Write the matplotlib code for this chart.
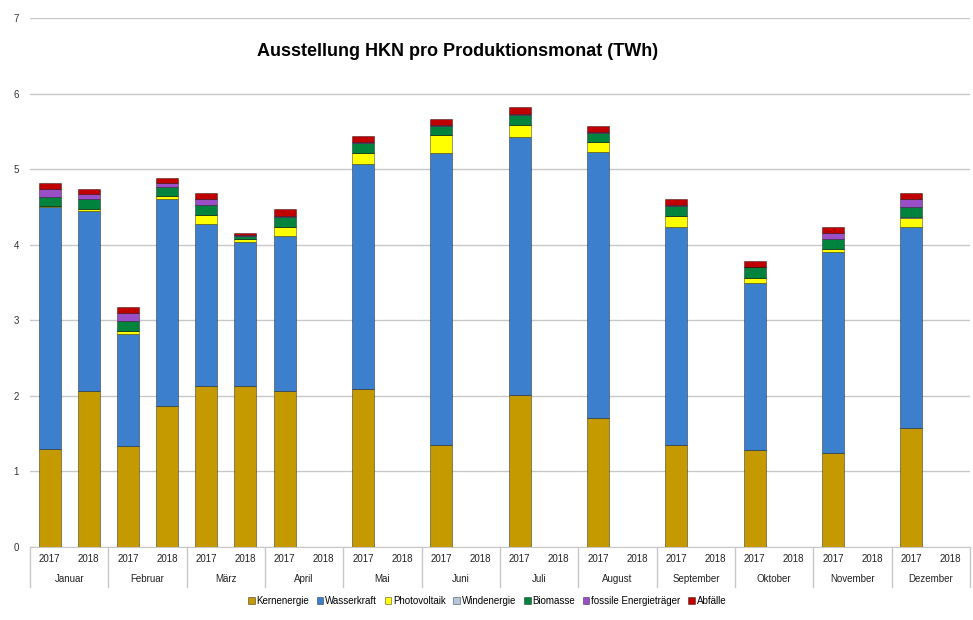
import numpy as np
import matplotlib
matplotlib.use('Agg')
import matplotlib.pyplot as plt
import matplotlib.transforms as mtransforms

plt.rcParams['font.family'] = ['Liberation Sans', 'DejaVu Sans']

months = ['Januar', 'Februar', 'März', 'April', 'Mai', 'Juni', 'Juli',
          'August', 'September', 'Oktober', 'November', 'Dezember']
years = ['2017', '2018']

# values in TWh, one entry per (month, year) pair: Jan 2017, Jan 2018, Feb 2017, ...
nan = np.nan
kernenergie = [1.30, 2.06, 1.33, 1.87, 2.13, 2.13, 2.06, nan, 2.09, nan, 1.35, nan,
               2.01, nan, 1.71, nan, 1.35, nan, 1.29, nan, 1.25, nan, 1.57, nan]
wasserkraft = [3.20, 2.38, 1.49, 2.73, 2.14, 1.90, 2.06, nan, 2.98, nan, 3.87, nan,
               3.42, nan, 3.52, nan, 2.88, nan, 2.20, nan, 2.65, nan, 2.66, nan]
photovoltaik = [0.01, 0.03, 0.04, 0.04, 0.12, 0.04, 0.12, nan, 0.15, nan, 0.23, nan,
                0.15, nan, 0.13, nan, 0.15, nan, 0.07, nan, 0.04, nan, 0.12, nan]
windenergie = [0.00, 0.00, 0.00, 0.00, 0.00, 0.00, 0.00, nan, 0.00, nan, 0.00, nan,
               0.00, nan, 0.00, nan, 0.00, nan, 0.00, nan, 0.00, nan, 0.02, nan]
biomasse = [0.12, 0.13, 0.13, 0.12, 0.14, 0.04, 0.13, nan, 0.13, nan, 0.12, nan,
            0.14, nan, 0.12, nan, 0.13, nan, 0.14, nan, 0.14, nan, 0.13, nan]
fossile = [0.11, 0.07, 0.10, 0.06, 0.07, 0.02, 0.01, nan, 0.01, nan, 0.01, nan,
           0.01, nan, 0.01, nan, 0.01, nan, 0.01, nan, 0.07, nan, 0.11, nan]
abfaelle = [0.08, 0.07, 0.09, 0.06, 0.09, 0.03, 0.09, nan, 0.08, nan, 0.08, nan,
            0.09, nan, 0.08, nan, 0.08, nan, 0.08, nan, 0.09, nan, 0.08, nan]

series = [
    ('Kernenergie', kernenergie, '#c49a00'),
    ('Wasserkraft', wasserkraft, '#3c7fcc'),
    ('Photovoltaik', photovoltaik, '#ffff00'),
    ('Windenergie', windenergie, '#b4c7dc'),
    ('Biomasse', biomasse, '#00843d'),
    ('fossile Energieträger', fossile, '#9b4fc6'),
    ('Abfälle', abfaelle, '#c00000'),
]

fig = plt.figure(figsize=(9.73, 6.2), dpi=100)
ax = fig.add_axes([30 / 973, 1 - 547 / 620, 940 / 973, 529 / 620])

x = np.arange(len(months) * len(years))
bottom = np.zeros(len(x))
for name, vals, color in series:
    v = np.nan_to_num(np.array(vals, dtype=float))
    ax.bar(x, v, 0.56, bottom=bottom, color=color, label=name,
           edgecolor=(0, 0, 0, 0.45), linewidth=0.6, zorder=3)
    bottom += v

ax.set_xlim(-0.5, len(x) - 0.5)
ax.set_ylim(0, 7)
ax.set_yticks(range(8))
ax.yaxis.grid(True, color='#c8c8c8', linewidth=1)
ax.set_axisbelow(True)
for s in ['top', 'right', 'left']:
    ax.spines[s].set_visible(False)
ax.spines['bottom'].set_color('#c8c8c8')
ax.tick_params(axis='y', length=0, labelsize=7, pad=8, colors='#333333')
ax.tick_params(axis='x', length=0, labelsize=7, pad=5, colors='#222222')
ax.set_xticks(x)
ax.set_xticklabels(years * len(months))

# month labels and separators under the year labels
trans = mtransforms.blended_transform_factory(ax.transData, ax.transAxes)
for i, m in enumerate(months):
    ax.text(2 * i + 0.5, -0.06, m, transform=trans, ha='center', va='center',
            fontsize=7, color='#222222')
for b in np.arange(-0.5, len(x), 2):
    ax.plot([b, b], [0, -0.076], transform=trans, color='#c8c8c8',
            linewidth=1, clip_on=False)

ax.text(0.455, 0.936, 'Ausstellung HKN pro Produktionsmonat (TWh)',
        transform=ax.transAxes, ha='center', va='center',
        fontsize=13, fontweight='bold')

fig.legend(loc='center', bbox_to_anchor=(487 / 973, 1 - 601 / 620), ncol=7,
           frameon=False, fontsize=7, handlelength=0.7, handleheight=0.7,
           handletextpad=0.2, columnspacing=0.75)

fig.savefig('out.png', dpi=100)
plt.close(fig)
